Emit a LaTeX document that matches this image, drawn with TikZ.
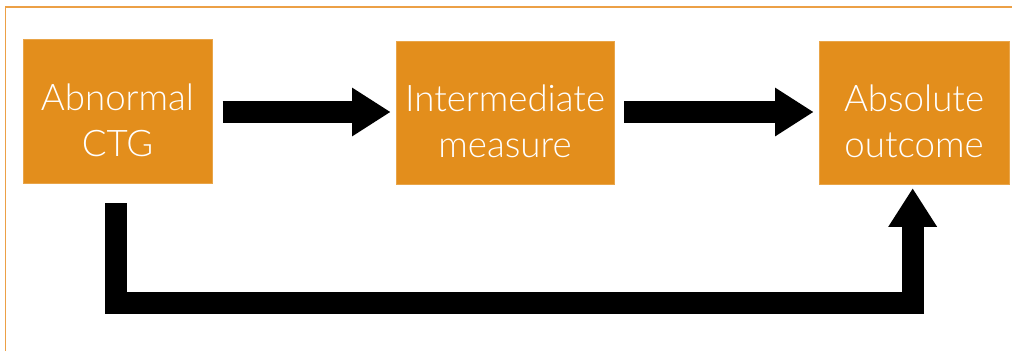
\documentclass[tikz,border=0pt]{standalone}
\usepackage{fontspec}
\IfFontExistsTF{Lato Light}{\setmainfont{Lato Light}}{\setmainfont{Lato}}
\usetikzlibrary{arrows.meta, calc, positioning}

\definecolor{boxorange}{RGB}{227,142,28}
\definecolor{frameorange}{RGB}{236,160,70}

\tikzset{
	stepbox/.style={fill=boxorange, draw=boxorange!80!white, line width=0.5pt, inner sep=0pt},
	steptext/.style={text=white, align=center, inner sep=0pt, font=\fontsize{27.5}{34.5}\selectfont},
	fatarrow/.style={line width=16.5pt, line join=miter, draw=black,
		-{Triangle[width=34.5pt, length=29pt]}},
}

\begin{document}
\begin{tikzpicture}[x=0.75pt,y=0.75pt,yscale=-1,xscale=1]
	\useasboundingbox (0,0) rectangle (1012,351);

	%Frame
	\draw [frameorange, line width=1.1pt] (5.5,351) -- (5.5,7) -- (1012,7) ;

	% Boxes
	\node [stepbox, minimum width=142pt, minimum height=108pt] (abn) at (117.5,111) {};
	\node [stepbox, minimum width=163.5pt, minimum height=107pt] (inter) at (505,112.5) {};
	\node [stepbox, minimum width=142.5pt, minimum height=107pt] (outc) at (914,112.5) {};

	% Text Node
	\node [steptext] (abntext) at ([yshift=7pt]abn.center) {Abnormal\\CTG};
	% Text Node
	\node [steptext] (intertext) at ([yshift=6.5pt]inter.center) {Intermediate\\measure};
	% Text Node
	\node [steptext] (outctext) at ([yshift=6.5pt]outc.center) {Absolute\\outcome};

	% bottom level of the loop
	\coordinate (low) at (0,302.5);

	% Arrows
	\draw [fatarrow, shorten <=7.5pt, shorten >=3.75pt] (abn.east |- 0,112) -- (inter.west |- 0,112) ;
	\draw [fatarrow, shorten <=7.5pt, shorten >=3.75pt] (inter.east |- 0,112) -- (outc.west |- 0,112) ;
	\draw [fatarrow, shorten <=15pt, shorten >=3pt] ([xshift=-1.5pt]abn.south) -- ([xshift=-1.5pt]abn.south |- low) -| ([xshift=-1pt]outc.south) ;

\end{tikzpicture}
\end{document}
